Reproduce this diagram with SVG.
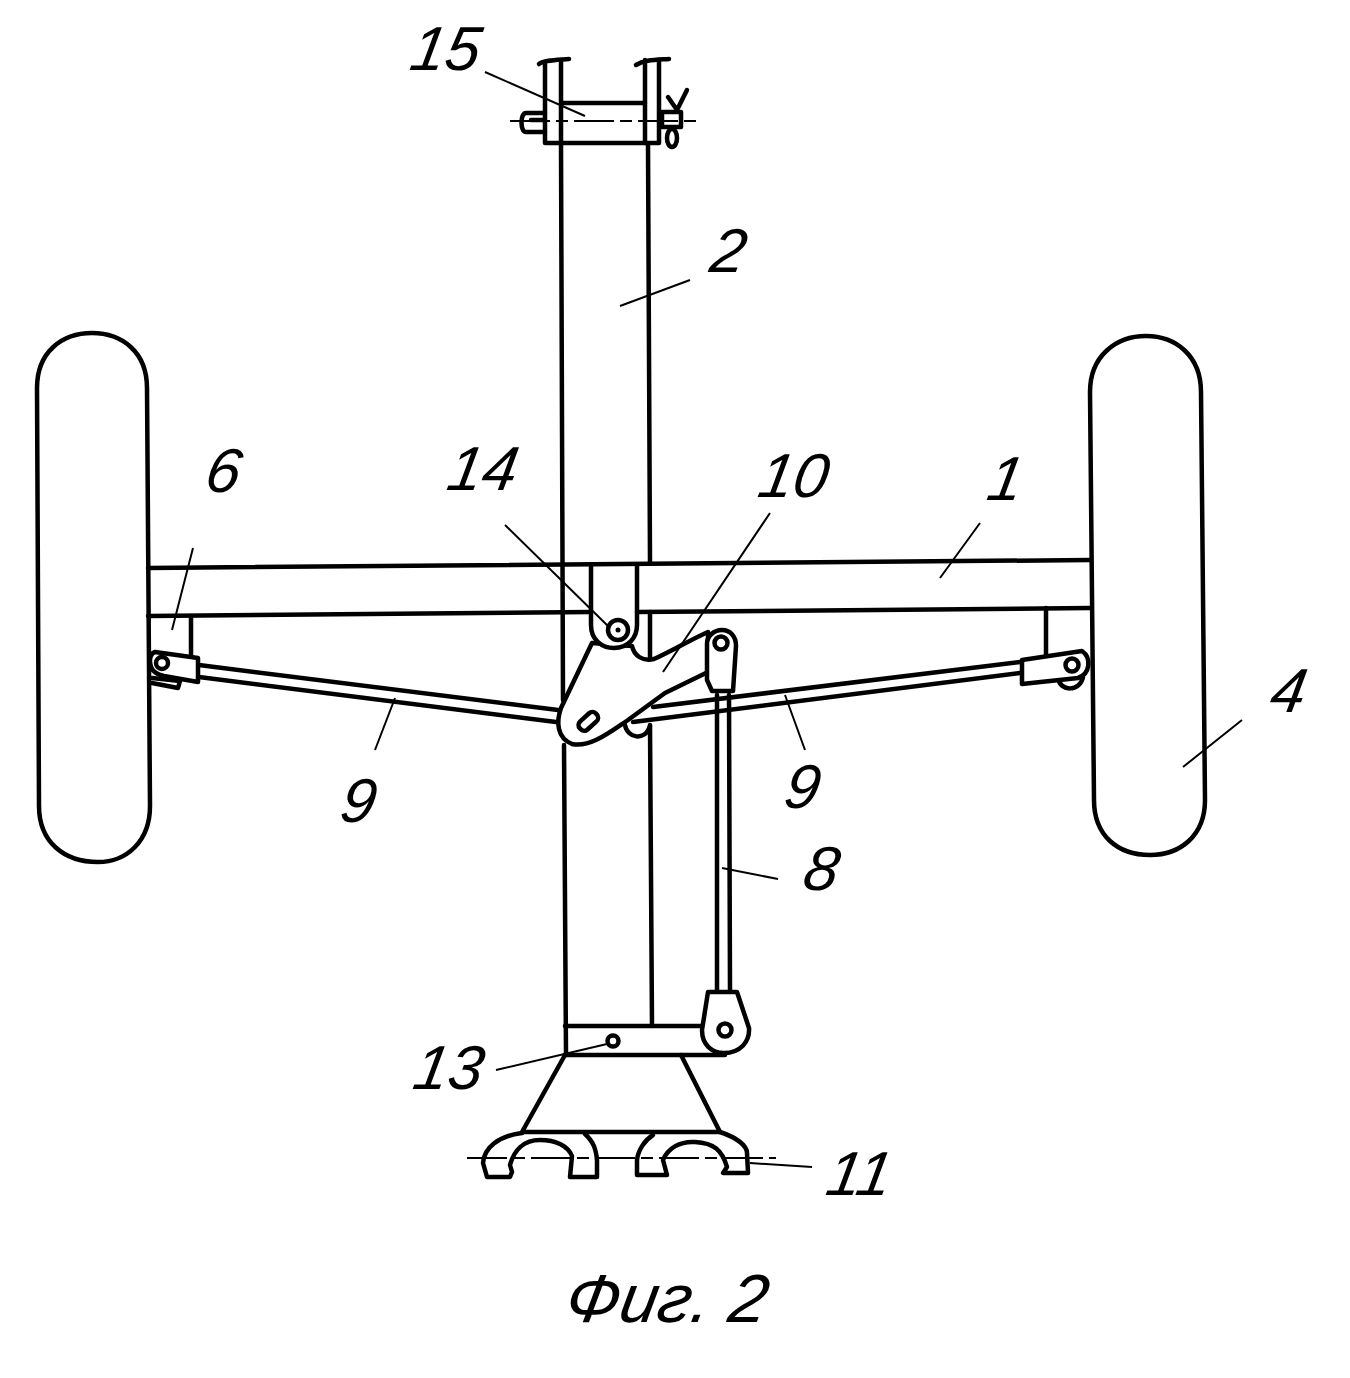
<svg xmlns="http://www.w3.org/2000/svg" width="1350" height="1378" viewBox="0 0 1350 1378">
<style>
.s{fill:none;stroke:#000;stroke-width:4.5;stroke-linecap:round;stroke-linejoin:round}
.w{fill:#fff;stroke:#000;stroke-width:4.5;stroke-linejoin:round}
.l{fill:none;stroke:#000;stroke-width:2}
.d{fill:none;stroke:#000;stroke-width:2;stroke-dasharray:40 6 12 6}
text{font-family:"Liberation Sans",Arial,sans-serif;font-style:italic;font-size:62px;fill:#000}
</style>
<rect width="1350" height="1378" fill="#fff"/>
<g id="wheel-left"><path class="s" d="M37 388C37 352 62 333 92 333C122 333 147 352 147 388L150 806C150 842 126 862 98 862C64 862 39 842 39 806Z"/></g>
<g id="wheel-right"><path class="s" d="M1090 392C1090 356 1116 336 1146 336C1176 336 1201 356 1201 392L1205 800C1205 836 1180 855 1150 855C1118 855 1094 836 1094 800Z"/></g>
<g id="frame-2">
<path class="s" d="M561 143L563 700M564 745L566 1055M648 143L650 563M650 612V662M650 725L652 1026"/>
</g>
<g id="rods-9">
<path class="s" d="M199 665L558 710M199 677L556 722"/>
<path class="s" d="M653 707L1020 662M633 722L1020 673"/>
</g>
<g id="arc-under"><path class="s" d="M625 725C627 738 645 742 650 726"/></g>
<g id="lever-10">
<path class="w" d="M592 643L561 708C556 722 557 738 572 744C590 748 610 732 628 720L665 693L708 672V632C690 640 670 652 654 659C642 662 634 655 632 646Z"/>
<rect class="s" x="-11" y="-5" width="22" height="11" rx="5" transform="translate(588 721) rotate(-42)"/>
</g>
<g id="pivot-14">
<path class="w" d="M591 563V625C591 640 602 648 614 648C628 648 637 638 637 625V563"/>
<circle class="s" cx="618" cy="630" r="10"/>
<circle cx="618" cy="630" r="2.5"/>
</g>
<g id="beam-1">
<path class="s" d="M148 568L1090 560M148 616L591 612M637 612L1090 608"/>
<path class="s" d="M191 616V656M1046 608V655"/>
</g>
<g id="link-8">
<path class="s" d="M717 695V990M729 695L730 990"/>
<path class="w" d="M707 644C707 636 714 630 722 630C730 630 736 636 736 646L733 691H712L707 680Z"/>
<circle class="s" cx="721" cy="643" r="6.5"/>
<path class="w" d="M708 992L702 1030C702 1045 712 1053 724 1053C740 1053 750 1042 749 1028L737 992Z"/>
<circle class="s" cx="725" cy="1030" r="6.5"/>
</g>
<g id="clevis-left">
<path class="w" d="M155 652L198 658V682L164 676C154 674 150 668 150 661C150 656 152 653 155 652Z"/>
<circle class="s" cx="162" cy="663" r="6"/>
<path class="s" d="M152 678L180 681L178 688L152 683"/>
</g>
<g id="clevis-right">
<path class="s" d="M1058 678C1060 692 1080 692 1083 677"/>
<path class="w" d="M1022 660L1082 651C1092 658 1090 674 1078 678L1022 684Z"/>
<circle class="s" cx="1072" cy="665" r="6.5"/>
</g>
<g id="bar-13">
<path class="s" d="M565 1026H702M565 1055H725"/>
<circle class="s" cx="613" cy="1041" r="5.5"/>
</g>
<g id="base-11">
<path class="s" d="M565 1055L522 1132H720L681 1055"/>
<path class="s" d="M522 1133C498 1136 484 1148 483 1163L487 1177H510L512 1172L510 1165C514 1150 524 1140 540 1140C556 1140 568 1146 572 1156L570 1177H597V1160C596 1150 594 1142 585 1134"/>
<path class="s" d="M653 1135C645 1140 638 1150 637 1160V1175H667L663 1160C668 1148 680 1141 695 1142C714 1143 722 1150 727 1167L723 1173H748L747 1153C747 1146 738 1138 720 1132"/>
</g>
<g id="hitch-15">
<path class="w" d="M545 60V143H659V60"/>
<path class="s" d="M561 60V143M645 60V143M539 64C544 60 556 60 569 59M636 65C644 60 654 60 669 59"/>
<path class="s" d="M561 103H645"/>
<path class="s" d="M545 113H526C520 113 520 132 526 132H545M531 120H545"/>
<rect class="s" x="662" y="112" width="19" height="15"/>
<path class="s" d="M668 97L677 110L687 90"/>
<ellipse class="s" cx="672" cy="138" rx="5" ry="9"/>
</g>
<g id="connectors">
<path class="d" d="M510 121H699"/>
<path class="d" d="M467 1158H776"/>
<path class="l" d="M485 72L585 116M620 306L690 280M172 630L193 548M505 525L610 628M663 672L770 513M940 578L980 523M1183 767L1242 720M375 750L395 698M805 750L785 695M722 868L778 879M496 1070L607 1044M750 1163L812 1167"/>
</g>
<g id="labels">
<text transform="translate(408 70) skewX(-10)">15</text>
<text transform="translate(708 272) skewX(-10)">2</text>
<text transform="translate(203 492) skewX(-10)">6</text>
<text transform="translate(445 490) skewX(-10)">14</text>
<text transform="translate(756 497) skewX(-10)">10</text>
<text transform="translate(985 500) skewX(-10)">1</text>
<text transform="translate(1268 712) skewX(-10)">4</text>
<text transform="translate(338 822) skewX(-10)">9</text>
<text transform="translate(782 808) skewX(-10)">9</text>
<text transform="translate(801 890) skewX(-10)">8</text>
<text transform="translate(411 1089) skewX(-10)">13</text>
<text transform="translate(824 1195) skewX(-10)">11</text>
<text transform="translate(563 1322) skewX(-10)" style="font-size:68px">Фиг. 2</text>
</g>
</svg>
